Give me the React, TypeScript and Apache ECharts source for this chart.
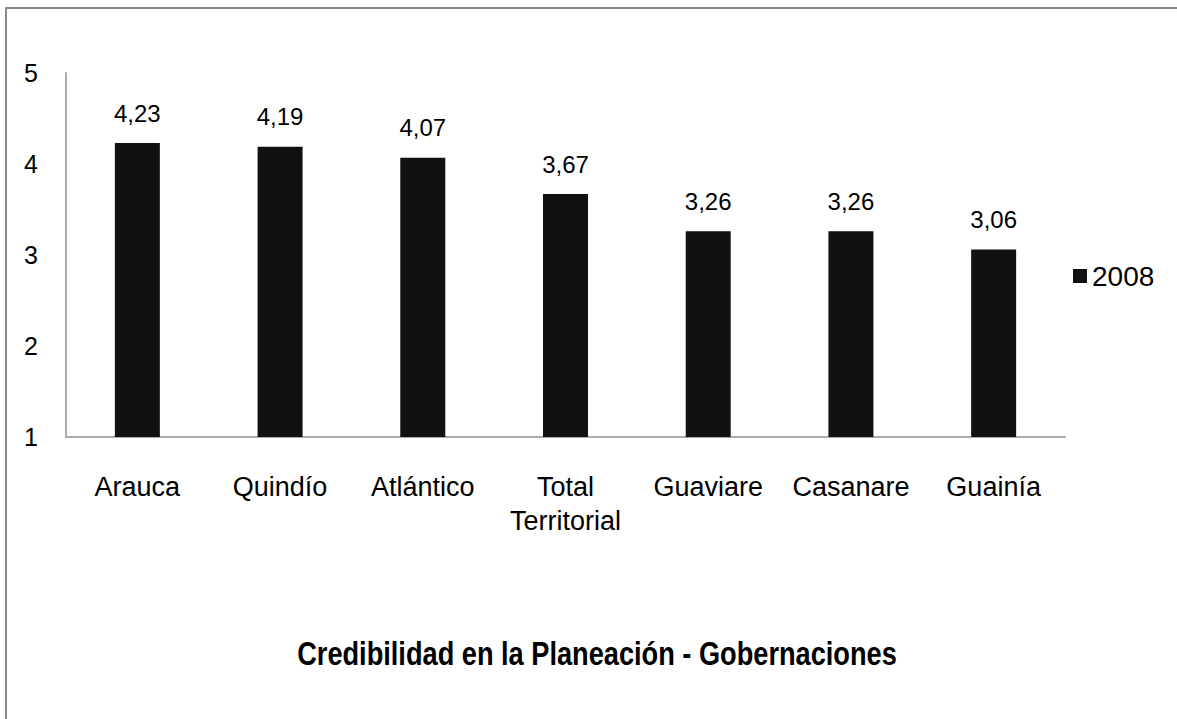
import React, { useEffect, useRef } from "react";
import * as echarts from "echarts";

const categories = ["Arauca", "Quindío", "Atlántico", "Total\nTerritorial", "Guaviare", "Casanare", "Guainía"];
const values2008 = [4.23, 4.19, 4.07, 3.67, 3.26, 3.26, 3.06];
const seriesName = "2008";
const chartTitle = "Credibilidad en la Planeación - Gobernaciones";

export default function App() {
  const ref = useRef<HTMLDivElement>(null);
  useEffect(() => {
    document.body.style.margin = "0";
    const chart = echarts.init(ref.current!, null, { renderer: "svg" });
    const font = "'Liberation Sans', Arial, sans-serif";
    chart.setOption({
      animation: false,
      backgroundColor: "#ffffff",
      textStyle: { fontFamily: font },
      graphic: [
        {
          type: "rect",
          shape: { x: 6, y: 8, width: 1400, height: 900 },
          style: { fill: "none", stroke: "#8a8a8a", lineWidth: 2 },
          silent: true,
        },
        {
          type: "text",
          x: 597,
          y: 653,
          scaleX: 0.8,
          style: {
            text: chartTitle,
            fontFamily: font,
            fontWeight: "bold",
            fontSize: 34,
            fill: "#000",
            align: "center",
            verticalAlign: "middle",
          },
          silent: true,
        },
      ],
      legend: {
        data: [seriesName],
        left: 1073,
        top: 262,
        itemWidth: 14,
        itemHeight: 14,
        icon: "rect",
        textStyle: { fontSize: 28, color: "#000", fontFamily: font, padding: [0, 0, 0, 0] },
        padding: 0,
      },
      grid: { left: 66, right: 112, top: 73, bottom: 282, containLabel: false },
      xAxis: {
        type: "category",
        data: categories,
        axisLine: { lineStyle: { color: "#ababab", width: 2 } },
        axisTick: { show: false },
        axisLabel: { fontSize: 27, color: "#000", margin: 33, lineHeight: 34, fontFamily: font, interval: 0 },
      },
      yAxis: {
        type: "value",
        min: 1,
        max: 5,
        interval: 1,
        axisLine: { show: true, lineStyle: { color: "#ababab", width: 2 } },
        axisTick: { show: false },
        splitLine: { show: false },
        axisLabel: { fontSize: 25, color: "#000", margin: 28, fontFamily: font },
      },
      series: [
        {
          name: seriesName,
          type: "bar",
          data: values2008,
          barWidth: 45,
          itemStyle: { color: "#111111" },
          label: {
            show: true,
            position: "top",
            distance: 18,
            fontSize: 24,
            color: "#000",
            fontFamily: font,
            formatter: (p: any) => String(p.value.toFixed(2)).replace(".", ","),
          },
        },
      ],
    });
    return () => chart.dispose();
  }, []);
  return <div ref={ref} style={{ width: 1177, height: 719 }} />;
}
